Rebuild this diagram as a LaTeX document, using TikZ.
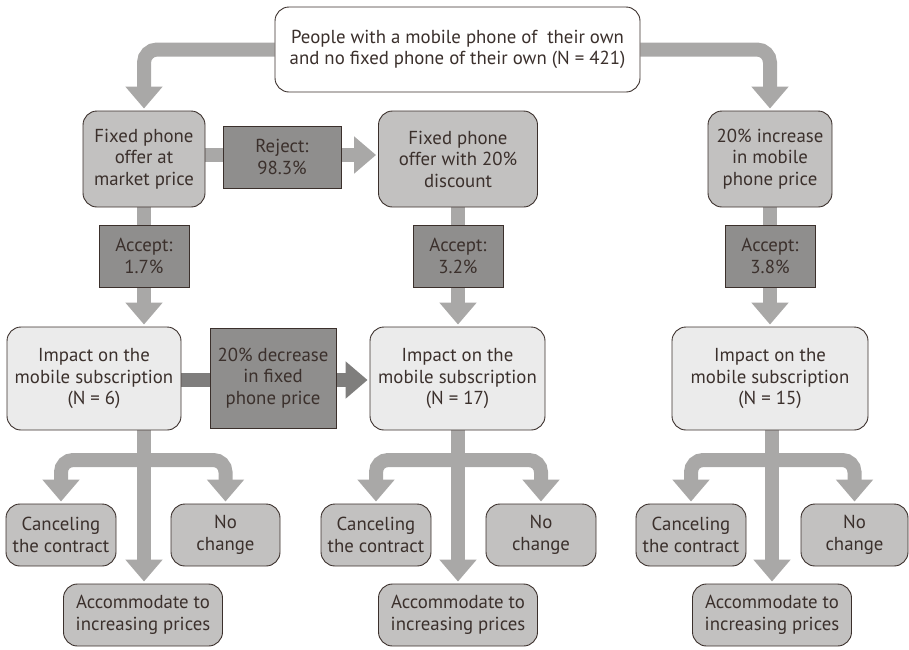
\documentclass[tikz,border=0pt]{standalone}
\usepackage{fontspec}
\setmainfont{PT Sans}
\usetikzlibrary{arrows.meta}
\pgfdeclarelayer{bg}
\pgfsetlayers{bg,main}
\definecolor{arr}{HTML}{A9A8A7}
\definecolor{darr}{HTML}{7F7E7D}
\definecolor{edge}{HTML}{3B302C}
\definecolor{txt}{HTML}{3B302C}
\definecolor{midfill}{HTML}{C2C1C0}
\definecolor{darkfill}{HTML}{8F8E8D}
\definecolor{lightfill}{HTML}{EBEBEB}
\begin{document}
\begin{tikzpicture}[x=1pt,y=-1pt,
  box/.style={draw=edge, line width=0.9pt, text=txt, align=center, inner sep=0pt,
    font=\fontsize{18.8}{21.5}\selectfont},
  rbox/.style={box, rounded corners=14pt},
  topbox/.style={rbox, fill=white, minimum width=365pt, minimum height=85pt},
  offerbox/.style={rbox, fill=midfill, minimum height=96pt},
  ratebox/.style={box, fill=darkfill, minimum height=62pt},
  impbox/.style={rbox, fill=lightfill, minimum height=103pt},
  outbox/.style={rbox, fill=midfill, minimum height=62pt},
  garrow/.style={draw=arr, line width=14pt, -{Triangle[width=36pt,length=22pt]}, shorten >=2pt, rounded corners=13pt},
  darrow/.style={draw=darr, line width=14pt, -{Triangle[width=36pt,length=22pt]}, shorten >=2pt},
]
\useasboundingbox (0,0) rectangle (909,649);

% top
\node[topbox] (top) at (457.5,49.5) {People with a mobile phone of\ \ their own\\and no fixed phone of their own (N = 421)};

% row 2
\node[offerbox, minimum width=122pt] (fp1) at (144,159) {Fixed phone\\offer at\\market price};
\node[ratebox, minimum width=118pt] (rej) at (282,157) {Reject:\\98.3\%};
\node[offerbox, minimum width=159pt] (fp2) at (458,159) {Fixed phone\\offer with 20\%\\discount};
\node[offerbox, minimum width=124pt] (inc) at (770,159) {20\% increase\\in mobile\\phone price};

% accept boxes
\node[ratebox, minimum width=90pt] (acc1) at (144,256) {Accept:\\1.7\%};
\node[ratebox, minimum width=90pt] (acc2) at (458,256) {Accept:\\3.2\%};
\node[ratebox, minimum width=90pt] (acc3) at (770,256) {Accept:\\3.8\%};

% impact
\node[impbox, minimum width=174pt] (imp1) at (94,378.5) {Impact on the\\mobile subscription\\(N = 6)};
\node[ratebox, minimum width=126pt, minimum height=100pt] (dec) at (273,378) {20\% decrease\\in fixed\\phone price};
\node[impbox, minimum width=175pt] (imp2) at (457.5,378.5) {Impact on the\\mobile subscription\\(N = 17)};
\node[impbox, minimum width=196pt] (imp3) at (770,378.5) {Impact on the\\mobile subscription\\(N = 15)};

% outcomes
\node[outbox, minimum width=110pt] (can1) at (61,535) {Canceling\\the contract};
\node[outbox, minimum width=109pt] (noc1) at (225.5,535) {No\\change};
\node[outbox, minimum width=159pt] (acm1) at (143,615) {Accommodate to\\increasing prices};

\node[outbox, minimum width=110pt] (can2) at (376,535) {Canceling\\the contract};
\node[outbox, minimum width=110pt] (noc2) at (541,535) {No\\change};
\node[outbox, minimum width=159pt] (acm2) at (458,615) {Accommodate to\\increasing prices};

\node[outbox, minimum width=110pt] (can3) at (691,535) {Canceling\\the contract};
\node[outbox, minimum width=107pt] (noc3) at (854.5,535) {No\\change};
\node[outbox, minimum width=159pt] (acm3) at (772,615) {Accommodate to\\increasing prices};

% junctions
\coordinate (j1) at (144,460);
\coordinate (j2) at (458,460);
\coordinate (j3) at (772,460);
\coordinate (s1) at (144,430);
\coordinate (s2) at (458,430);
\coordinate (s3) at (772,430);

\begin{pgfonlayer}{bg}
  \draw[garrow] (top.west) -| (fp1.north);
  \draw[garrow] (top.east) -| (inc.north);
  \draw[garrow] ([yshift=4pt]fp1.east) -- ([yshift=4pt]fp2.west);
  \draw[garrow] (fp1.south) -- (fp1.south |- imp1.north);
  \draw[garrow] (fp2.south) -- (fp2.south |- imp2.north);
  \draw[garrow] (inc.south) -- (inc.south |- imp3.north);
  \draw[darrow] ([yshift=-1.5pt]imp1.east) -- ([yshift=-1.5pt]imp2.west);
  % branches
  \draw[garrow] (s1) -- (acm1.north -| s1);
  \draw[garrow, rounded corners=12pt] (j1) -| (can1.north);
  \draw[garrow, rounded corners=12pt] (j1) -| (noc1.north);
  \draw[garrow] (s2) -- (acm2.north -| s2);
  \draw[garrow, rounded corners=12pt] (j2) -| (can2.north);
  \draw[garrow, rounded corners=12pt] (j2) -| (noc2.north);
  \draw[garrow] (s3) -- (acm3.north -| s3);
  \draw[garrow, rounded corners=12pt] (j3) -| (can3.north);
  \draw[garrow, rounded corners=12pt] (j3) -| (noc3.north);
\end{pgfonlayer}
\end{tikzpicture}
\end{document}
